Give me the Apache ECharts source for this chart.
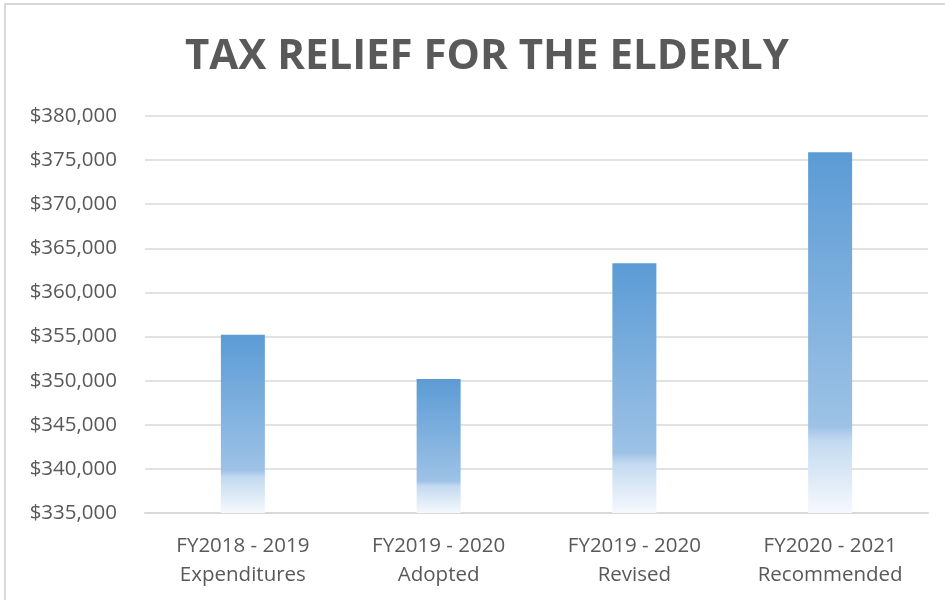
<!DOCTYPE html>
<html>
<head>
<meta charset="utf-8">
<script src="https://cdn.jsdelivr.net/npm/echarts@6/dist/echarts.min.js"></script>
<style>
  html, body { margin: 0; padding: 0; background: #fff; }
  #frame { position: absolute; left: 4px; top: 3px; width: 960px; height: 620px; border: 2px solid #d9d9d9; box-sizing: border-box; }
  #main { position: absolute; left: 0; top: 0; width: 945px; height: 600px; }
</style>
</head>
<body>
<div id="frame"></div>
<div id="main"></div>
<script>
  // categories (two lines each) and values
  const categories = [
    'FY2018 - 2019\nExpenditures',
    'FY2019 - 2020\nAdopted',
    'FY2019 - 2020\nRevised',
    'FY2020 - 2021\nRecommended'
  ];
  const values = [355200, 350200, 363300, 375900];
  const yMin = 335000;
  const yMax = 380000;
  const yStep = 5000;

  const chart = echarts.init(document.getElementById('main'));

  // vertical fade like the original fill
  const barFill = new echarts.graphic.LinearGradient(0, 0, 0, 1, [
    { offset: 0, color: '#5b9bd5' },
    { offset: 0.76, color: '#9dc2e6' },
    { offset: 0.8, color: '#c3daf0' },
    { offset: 1, color: '#f6f9fd' }
  ]);

  chart.setOption({
    animation: false,
    title: {
      text: 'TAX RELIEF FOR THE ELDERLY',
      left: 482,
      textAlign: 'center',
      top: 31,
      textStyle: {
        fontFamily: 'Open Sans',
        fontWeight: 'bold',
        fontSize: 42,
        color: '#595959'
      }
    },
    grid: { left: 145, right: 17, top: 116, bottom: 87 },
    xAxis: {
      type: 'category',
      data: categories,
      axisLine: { lineStyle: { color: '#d9d9d9', width: 2 } },
      axisTick: { show: false },
      axisLabel: {
        color: '#595959',
        fontFamily: 'Open Sans',
        fontSize: 20.5,
        lineHeight: 29,
        margin: 19
      }
    },
    yAxis: {
      type: 'value',
      min: yMin,
      max: yMax,
      interval: yStep,
      axisLine: { show: false },
      axisTick: { show: false },
      splitLine: { lineStyle: { color: '#d9d9d9', width: 1.5 } },
      axisLabel: {
        color: '#595959',
        fontFamily: 'Open Sans',
        fontSize: 20.5,
        margin: 28,
        formatter: v => '$' + v.toLocaleString('en-US')
      }
    },
    series: [{
      type: 'bar',
      data: values,
      barWidth: 44,
      itemStyle: { color: barFill }
    }]
  });
</script>
</body>
</html>
